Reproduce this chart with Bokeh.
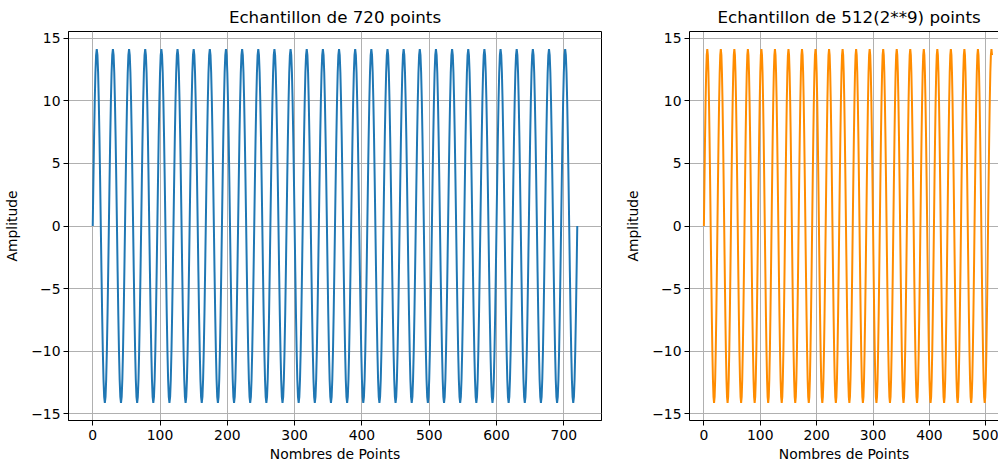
from bokeh.plotting import figure
from bokeh.layouts import row
from bokeh.models import Range1d, FixedTicker, CustomJSTickFormatter, LinearAxis
from bokeh.embed import file_html
from bokeh.resources import INLINE

# One period (24 samples) of the sine (amplitude ~14.14)
one_period = [0.0, 3.66, 7.07, 10.0, 12.25, 13.66, 14.14, 13.66, 12.25, 10.0, 7.07, 3.66,
              0.0, -3.66, -7.07, -10.0, -12.25, -13.66, -14.14, -13.66, -12.25, -10.0, -7.07, -3.66]
n_left_periods = 30          # 720 points -> 30 full periods, ends back at 0
n_right_points = 512         # 2**9 points

left_y = one_period * n_left_periods + [0.0]
left_x = list(range(len(left_y)))
right_y = (one_period * 22)[:n_right_points]
right_x = list(range(len(right_y)))

left_title = "Echantillon de 720 points"
right_title = "Echantillon de 512(2**9) points"
x_label = "Nombres de Points"
y_label = "Amplitude"
left_xticks = [0, 100, 200, 300, 400, 500, 600, 700]
right_xticks = [0, 100, 200, 300, 400, 500]
y_ticks = [-15, -10, -5, 0, 5, 10, 15]

FONT = "DejaVu Sans"
fmt_code = "return (tick < 0 ? '\\u2212' : '') + Math.abs(tick).toFixed(0);"


def style(p, xticks):
    p.title.text_font = FONT
    p.title.text_font_size = "16.7px"
    p.title.text_font_style = "normal"
    p.title.text_color = "black"
    p.title.align = "center"
    p.title.standoff = 9
    p.background_fill_color = "white"
    p.border_fill_color = "white"
    p.xaxis.ticker = FixedTicker(ticks=xticks, minor_ticks=[])
    p.yaxis.ticker = FixedTicker(ticks=y_ticks, minor_ticks=[])
    for ax in (p.xaxis, p.yaxis):
        ax.formatter = CustomJSTickFormatter(code=fmt_code)
        ax.axis_line_color = "black"
        ax.axis_line_width = 1
        ax.major_tick_line_color = "black"
        ax.major_tick_out = 5
        ax.major_tick_in = 0
        ax.minor_tick_out = 0
        ax.minor_tick_in = 0
        ax.major_label_text_font = FONT
        ax.major_label_text_font_size = "13.9px"
        ax.major_label_text_color = "black"
        ax.axis_label_text_font = FONT
        ax.axis_label_text_font_size = "13.9px"
        ax.axis_label_text_font_style = "normal"
        ax.axis_label_text_color = "black"
    p.xaxis.axis_label = x_label
    p.yaxis.axis_label = y_label
    p.xaxis.major_label_standoff = 4
    p.yaxis.major_label_standoff = 3
    p.xaxis.axis_label_standoff = 3
    p.yaxis.axis_label_standoff = 8
    p.xgrid.ticker = FixedTicker(ticks=xticks, minor_ticks=[])
    p.ygrid.ticker = FixedTicker(ticks=y_ticks, minor_ticks=[])
    for g in (p.xgrid, p.ygrid):
        g.grid_line_color = "#b0b0b0"
        g.grid_line_width = 1


left = figure(width=622, height=466, title=left_title,
              x_range=Range1d(-36, 756), y_range=Range1d(-15.55, 15.55),
              output_backend="svg", toolbar_location=None,
              min_border_left=68, min_border_right=21, min_border_top=31, min_border_bottom=46)
style(left, left_xticks)
left.outline_line_color = "black"
left.outline_line_width = 1
left.outline_line_alpha = 1
left.line(left_x, left_y, line_color="#1f77b4", line_width=2)

right = figure(width=376, height=466, title=right_title,
               x_range=Range1d(-25.55, 522.5), y_range=Range1d(-15.55, 15.55),
               output_backend="svg", toolbar_location=None,
               min_border_left=65, min_border_right=0, min_border_top=31, min_border_bottom=46)
style(right, right_xticks)
right.title.align = "left"
right.title.offset = 28
right.outline_line_color = None
top_axis = LinearAxis(ticker=FixedTicker(ticks=[], minor_ticks=[]), axis_line_color="black",
                      major_tick_out=0, major_tick_in=0, minor_tick_out=0, minor_tick_in=0,
                      major_label_text_font_size="0px", major_label_standoff=0)
right.add_layout(top_axis, "above")
right.line(right_x, right_y, line_color="#ff8c00", line_width=2)

layout = row(left, right)
open("out.html", "w").write(file_html(layout, INLINE))
